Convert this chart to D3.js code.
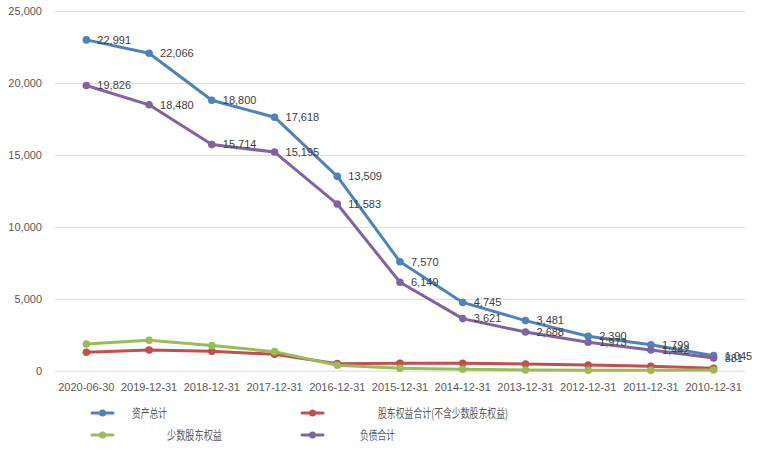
<!DOCTYPE html>
<html>
<head>
<meta charset="utf-8">
<script src="https://cdn.jsdelivr.net/npm/d3@7/dist/d3.min.js"></script>
<style>
html,body{margin:0;padding:0;background:#fff;}
svg{display:block;}
</style>
</head>
<body>
<svg id="chart" width="757" height="451"></svg>
<script>
const categories = ["2020-06-30","2019-12-31","2018-12-31","2017-12-31","2016-12-31","2015-12-31","2014-12-31","2013-12-31","2012-12-31","2011-12-31","2010-12-31"];
const totalAssets = [22991,22066,18800,17618,13509,7570,4745,3481,2390,1799,1045];
const equityExMinority = [1280,1440,1350,1140,490,515,515,470,400,310,165];
const minorityEquity = [1860,2120,1745,1325,375,165,100,50,35,35,50];
const totalLiabilities = [19826,18480,15714,15195,11583,6149,3621,2688,1973,1442,881];
const yTicks = [0,5000,10000,15000,20000,25000];

const series = [
  {name:"资产总计", values: totalAssets, color:"#4F81BD", labels:true},
  {name:"股东权益合计(不含少数股东权益)", values: equityExMinority, color:"#C0504D", labels:false},
  {name:"少数股东权益", values: minorityEquity, color:"#9BBB59", labels:false},
  {name:"负债合计", values: totalLiabilities, color:"#8064A2", labels:true}
];

const svg = d3.select("#chart");
const font = "'Liberation Sans', Arial, sans-serif";
const x = d3.scaleBand().domain(categories).range([55,745]).paddingInner(0).paddingOuter(0);
const y = d3.scaleLinear().domain([0,25000]).range([370.7,11]);
const cx = c => x(c) + x.bandwidth()/2;

// gridlines
const yAxis = d3.axisLeft(y).tickValues(yTicks).tickSize(-(745-55)).tickFormat(d3.format(","));
const gy = svg.append("g").attr("transform","translate(55,0)").call(yAxis);
gy.select(".domain").remove();
gy.selectAll(".tick line").attr("stroke","#d9d9d9").attr("stroke-width",1);
gy.selectAll(".tick text").attr("x",-13).attr("fill","#595959").style("font-family",font).style("font-size","11px");

// x axis labels
const xAxis = d3.axisBottom(x).tickSize(0).tickPadding(8);
const gx = svg.append("g").attr("transform","translate(0,375)").call(xAxis);
gx.select(".domain").remove();
gx.selectAll(".tick text").attr("fill","#595959").style("font-family",font).style("font-size","11px");

const line = d3.line().x((d,i)=>cx(categories[i])).y(d=>y(d));

series.forEach(s=>{
  svg.append("path").datum(s.values).attr("d",line)
    .attr("fill","none").attr("stroke",s.color).attr("stroke-width",3)
    .attr("stroke-linejoin","round").attr("stroke-linecap","round");
  svg.append("g").selectAll("circle").data(s.values).join("circle")
    .attr("cx",(d,i)=>cx(categories[i])).attr("cy",d=>y(d)).attr("r",3.8)
    .attr("fill",s.color);
});
series.filter(s=>s.labels).forEach(s=>{
  svg.append("g").selectAll("text").data(s.values).join("text")
    .attr("x",(d,i)=>cx(categories[i])+11).attr("y",d=>y(d))
    .attr("dy","0.35em")
    .attr("fill","#404040").style("font-family",font).style("font-size","11px")
    .text(d=>d3.format(",")(d));
});

// legend
const legendItems = [
  {s:series[0], lx:92, ly:413, tx:132, tw:35},
  {s:series[1], lx:302, ly:413, tx:378, tw:130},
  {s:series[2], lx:92, ly:435, tx:167, tw:55},
  {s:series[3], lx:302, ly:435, tx:360, tw:35}
];
legendItems.forEach(it=>{
  const g = svg.append("g");
  g.append("line").attr("x1",it.lx).attr("x2",it.lx+21).attr("y1",it.ly).attr("y2",it.ly)
    .attr("stroke",it.s.color).attr("stroke-width",3).attr("stroke-linecap","round");
  g.append("circle").attr("cx",it.lx+10.5).attr("cy",it.ly).attr("r",3.5).attr("fill",it.s.color);
  g.append("text").attr("x",it.tx).attr("y",it.ly).attr("dy","0.38em")
    .attr("fill","#595959").style("font-family","'Noto Sans CJK SC', sans-serif").style("font-size","12.5px")
    .attr("textLength",it.tw).attr("lengthAdjust","spacingAndGlyphs")
    .text(it.s.name);
});
</script>
</body>
</html>
